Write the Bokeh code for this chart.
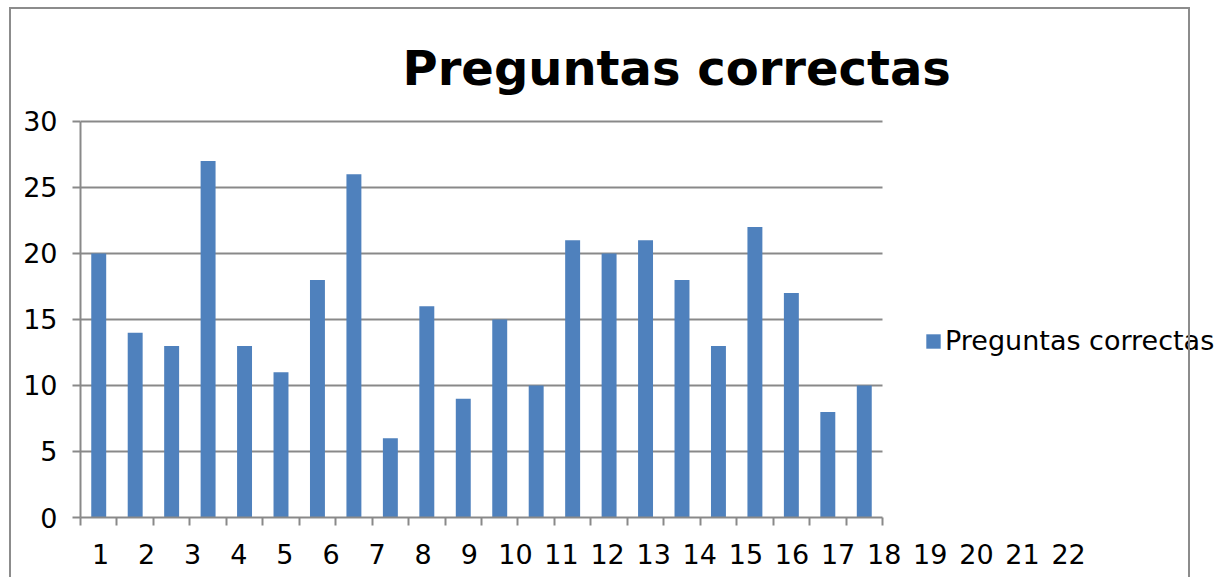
from bokeh.plotting import figure
from bokeh.models import (Range1d, FixedTicker, LinearAxis, Legend, LegendItem,
                          ColumnDataSource, InlineStyleSheet)
from bokeh.embed import file_html
from bokeh.resources import INLINE

# ---- data ----
categories = list(range(1, 23))
values = [20, 14, 13, 27, 13, 11, 18, 26, 6, 16, 9, 15, 10, 21, 20, 21, 18, 13, 22, 17, 8, 10]
y_ticks = [0, 5, 10, 15, 20, 25, 30]
series_name = "Preguntas correctas"
title_text = "Preguntas correctas"

FONT = "DejaVu Sans"
GRID = "#898989"
BAR = "#4F81BD"
LBL = "27px"

W, H = 1218, 577
n = len(categories)
slot_px = 802.0 / n          # width of one category slot in pixels
frame_left = 80
frame_w = W - frame_left
x_end = frame_w / slot_px

p = figure(width=W, height=H, output_backend="svg", toolbar_location=None,
           x_range=Range1d(0, x_end), y_range=Range1d(0, 30.15),
           min_border_left=frame_left, min_border_right=0, min_border_top=119,
           min_border_bottom=60, x_axis_type=None, y_axis_type=None)
p.outline_line_color = None
p.xgrid.visible = False
p.ygrid.visible = False

# label range for the category labels (Excel spreads them wider than the slots)
lab_step = 46.1
lab_start = 1 - 20.0 / lab_step
lab_end = lab_start + frame_w / lab_step
p.extra_x_ranges = {"labels": Range1d(lab_start, lab_end)}

src = ColumnDataSource(dict(x=[c - 0.5 for c in categories], top=values))

# horizontal grid lines, only over the category span
gy = [t for t in y_ticks if t > 0]
p.segment(x0=[0] * len(gy), x1=[n] * len(gy), y0=gy, y1=gy,
          line_color=GRID, line_width=2)

bars = p.vbar(x="x", top="top", width=0.41, source=src, fill_color=BAR,
              line_color=None)

# y axis
yax = LinearAxis(ticker=FixedTicker(ticks=y_ticks), bounds=(0, 30))
yax.axis_line_color = GRID
yax.axis_line_width = 2
yax.major_tick_line_color = GRID
yax.major_tick_line_width = 2
yax.major_tick_out = 8
yax.major_tick_in = 0
yax.minor_tick_line_color = None
yax.major_label_standoff = 15
yax.major_label_text_font = FONT
yax.major_label_text_font_size = LBL
yax.major_label_text_color = "black"
p.add_layout(yax, "left")

# x axis: tick marks at slot boundaries (no labels)
xax = LinearAxis(ticker=FixedTicker(ticks=list(range(0, n + 1))), bounds=(0, n))
xax.axis_line_color = GRID
xax.axis_line_width = 2
xax.major_tick_line_color = GRID
xax.major_tick_line_width = 2
xax.major_tick_out = 8
xax.major_tick_in = 0
xax.minor_tick_line_color = None
xax.major_label_text_color = None
xax.major_label_text_font_size = "1px"
xax.major_label_standoff = 0
p.add_layout(xax, "below")

# x axis: category labels
lax = LinearAxis(x_range_name="labels", ticker=FixedTicker(ticks=categories))
lax.axis_line_color = None
lax.major_tick_line_color = None
lax.major_tick_out = 0
lax.major_tick_in = 0
lax.minor_tick_line_color = None
lax.major_label_standoff = 18
lax.major_label_text_font = FONT
lax.major_label_text_font_size = LBL
lax.major_label_text_color = "black"
p.add_layout(lax, "below")

# title
p.title.text = title_text
p.title.text_font = FONT
p.title.text_font_size = "48px"
p.title.text_font_style = "bold"
p.title.text_color = "black"
p.title.align = "left"
p.title.offset = 322
p.title.standoff = 48

# legend
legend = Legend(items=[LegendItem(label=series_name, renderers=[bars])],
                location=(844, 161), glyph_width=18, glyph_height=18,
                label_standoff=3, padding=0, margin=0, spacing=0,
                border_line_color=None, background_fill_alpha=0,
                label_text_font=FONT, label_text_font_size=LBL,
                label_text_color="black")
p.add_layout(legend)

# chart border (drawn as an overlay frame)
p.stylesheets = [InlineStyleSheet(css="""
:host { position: relative; }
:host::after {
  content: ""; position: absolute; left: 9px; top: 7px;
  width: 1181px; height: 570px; box-sizing: border-box;
  border: 2px solid #8c8c8c; border-bottom: none; pointer-events: none;
}
""")]

open("out.html", "w").write(file_html(p, INLINE))
